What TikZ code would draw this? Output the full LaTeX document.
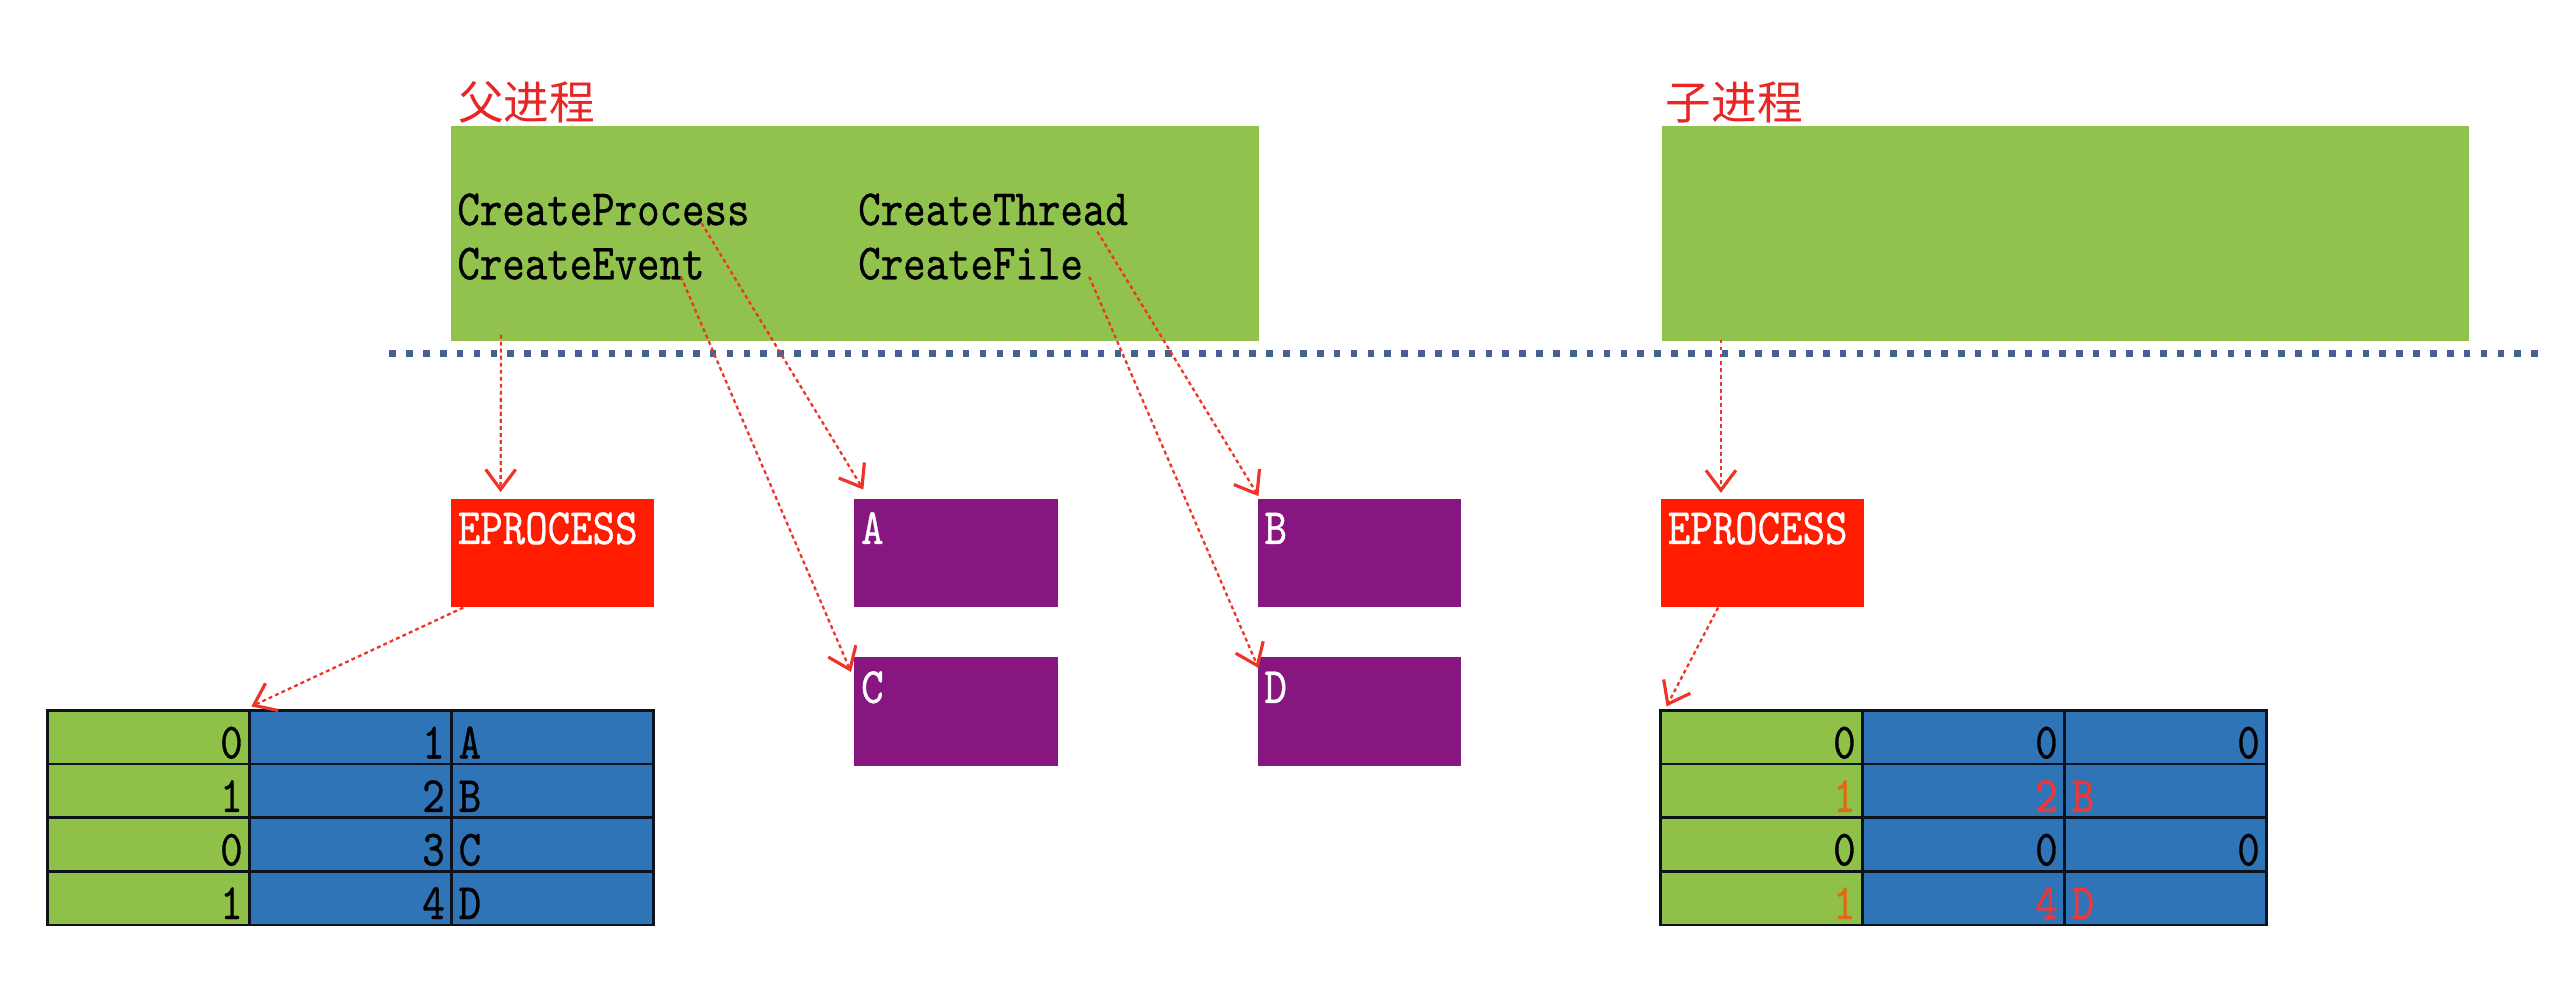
\documentclass[tikz,border=0pt]{standalone}
\usepackage{fontspec}
\usepackage{tikz}
\usetikzlibrary{arrows.meta,positioning,calc}
\newfontfamily\codefont{lmmono10-regular.otf}[FakeStretch=0.84,FakeBold=0.6]
\newfontfamily\cjkfont{Noto Sans CJK SC}
\definecolor{procgreen}{RGB}{146,194,78}
\definecolor{cellgreen}{RGB}{143,193,72}
\definecolor{cellblue}{RGB}{46,116,183}
\definecolor{objpurple}{RGB}{136,22,128}
\definecolor{epred}{RGB}{255,28,0}
\definecolor{arrred}{RGB}{238,52,40}
\definecolor{titlered}{RGB}{232,38,38}
\definecolor{sepblue}{RGB}{68,98,140}
\definecolor{numorange}{RGB}{226,104,20}
\definecolor{numred}{RGB}{236,56,56}
\definecolor{gridline}{RGB}{12,18,30}
\tikzset{
  codetext/.style={inner sep=0pt,anchor=base west,font=\codefont\fontsize{14.5}{18}\selectfont},
  titletext/.style={inner sep=0pt,anchor=base west,text=titlered,font=\cjkfont\fontsize{13}{16}\selectfont},
  procbox/.style={rectangle,fill=procgreen,anchor=north west,minimum width=8.08cm,minimum height=2.15cm,inner sep=0pt},
  objbox/.style={rectangle,anchor=north west,inner xsep=0.07cm,inner ysep=0pt,text width=1.897cm,text height=0.455cm,text depth=0.629cm,align=left,text=white,font=\codefont\fontsize{14.5}{18}\selectfont},
  epbox/.style={objbox,fill=epred},
  kobjbox/.style={objbox,fill=objpurple},
  tabcell/.style={rectangle,draw=gridline,line width=0.75pt,outer sep=0pt,inner xsep=0.07cm,inner ysep=0pt,text width=1.881cm,text height=0.478cm,text depth=0.058cm,align=right,font=\codefont\fontsize{14.5}{18}\selectfont},
  gcell/.style={tabcell,fill=cellgreen},
  bcell/.style={tabcell,fill=cellblue},
  redarr/.style={-{Straight Barb[length=0.2cm,width=0.3cm,line width=0.9pt]},color=arrred,line width=0.65pt,dash pattern=on 1.1pt off 0.9pt},
  sepline/.style={color=sepblue,line width=1.9pt,dash pattern=on 1.9pt off 2.9pt}
}
\begin{document}
\begin{tikzpicture}[x=0.01643cm,y=-0.01643cm]
  \useasboundingbox (0,0) rectangle (1568,598);

  %% user mode: the two processes
  \node[titletext] (ptitle) at (278.5,73) {父进程};
  \node[titletext] (ctitle) at (1013.5,73) {子进程};
  \node[procbox] (parent) at (274,76) {};
  \node[procbox] (child) at (1011,76) {};
  \node[codetext] (cproc) at (278,137) {CreateProcess};
  \node[codetext] (cevent) at (278,170) {CreateEvent};
  \node[codetext] (cthread) at (522,137) {CreateThread};
  \node[codetext] (cfile) at (522,170) {CreateFile};

  %% kernel objects
  \node[epbox] (EP1) at (274,303) {EPROCESS};
  \node[kobjbox] (KA) at (519.5,303) {A};
  \node[kobjbox] (KB) at (765,303) {B};
  \node[kobjbox] (KC) at (519.5,399.7) {C};
  \node[kobjbox] (KD) at (765,399.7) {D};
  \node[epbox] (EP2) at (1010.5,303) {EPROCESS};

  %% handle tables
  \foreach \a/\b/\c [count=\r] in {0/1/A,1/2/B,0/3/C,1/4/D} {
    \node[gcell,anchor=north west] (pa\r) at (29,{432.5+32.6*(\r-1)}) {\a};
    \node[bcell,right=0pt of pa\r] (pb\r) {\b};
    \node[bcell,right=0pt of pb\r,align=left] (pc\r) {\c};
  }
  \foreach \a/\b/\c/\ca/\cb/\al [count=\r] in
      {0/0/0/black/black/right,1/2/B/numorange/numred/left,
       0/0/0/black/black/right,1/4/D/numorange/numred/left} {
    \node[gcell,anchor=north west,text=\ca] (qa\r) at (1010.8,{432.5+32.6*(\r-1)}) {\a};
    \node[bcell,right=0pt of qa\r,text=\cb] (qb\r) {\b};
    \node[bcell,right=0pt of qb\r,text=\cb,align=\al] (qc\r) {\c};
  }

  %% user/kernel boundary
  \coordinate (sepL) at (237,215);
  \coordinate (sepR) at (1548,215);
  \draw[sepline] (sepL) -- (sepR);

  %% links
  \draw[redarr] ([shift={(31,-4)}]parent.south west) -- ([shift={(30.7,-3.5)}]EP1.north west);
  \draw[redarr] ([shift={(149,-1.2)}]cproc.base west) -- ([shift={(6,-5)}]KA.north west);
  \draw[redarr] ([shift={(136.5,-1.6)}]cevent.base west) -- ([shift={(-1.5,9.3)}]KC.north west);
  \draw[redarr] ([shift={(146,4)}]cthread.base west) -- ([shift={(1,-1)}]KB.north west);
  \draw[redarr] ([shift={(141,-1.6)}]cfile.base west) -- ([shift={(1,6.9)}]KD.north west);
  \draw[redarr] ([shift={(8,0)}]EP1.south west) -- ([shift={(1,-2.5)}]pb1.north west);
  \draw[redarr] ([shift={(36.5,-1)}]child.south west) -- ([shift={(37,-3)}]EP2.north west);
  \draw[redarr] ([shift={(35.3,0)}]EP2.south west) -- ([shift={(3.6,-2.5)}]qa1.north west);
\end{tikzpicture}
\end{document}
